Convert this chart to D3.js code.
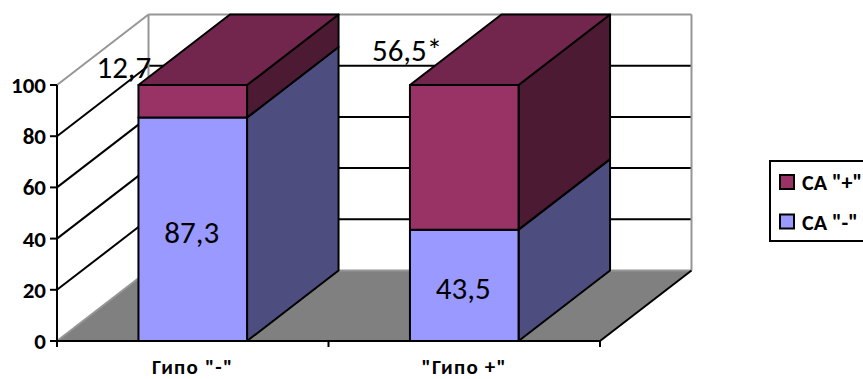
<!DOCTYPE html>
<html>
<head>
<meta charset="utf-8">
<script src="https://cdn.jsdelivr.net/npm/d3@7"></script>
<style>
  html, body { margin: 0; padding: 0; background: #fff; overflow: hidden; }
  text { font-family: Carlito, Calibri, Lato, "Open Sans", sans-serif; fill: #000; }
  .tick-label { font-size: 23px; font-weight: bold; }
  .cat-label { font-size: 21px; font-weight: bold; letter-spacing: 1.2px; }
  .value-label { font-size: 31px; }
  .legend-label { font-size: 22px; font-weight: bold; }
</style>
</head>
<body>
<div id="chart"></div>
<script>
/* stacked 3d column chart */

const categories = ['Гипо "-"', '"Гипо +"'];
const seriesMinus = [87.3, 43.5];
const seriesPlus = [12.7, 56.5];
const plusLabels = ["12,7", "56,5*"];
const minusLabels = ["87,3", "43,5"];
const yTicks = [0, 20, 40, 60, 80, 100];
const legendNames = ['CA "+"', 'CA "-"'];

const width = 863, height = 379;
const depthX = 91.5, depthY = -70.5;

const colors = {
  minus: { front: "#9999ff", side: "#4d4d80" },
  plus: { front: "#993366", side: "#4d1a33", top: "#73264d" }
};

const svg = d3.select("#chart").append("svg")
    .attr("width", width)
    .attr("height", height);

const x = d3.scaleBand()
    .domain(categories)
    .range([57, 600])
    .paddingInner(0.6)
    .paddingOuter(0.3);

const y = d3.scaleLinear()
    .domain([0, 100])
    .range([341, 85]);

const x0 = x.range()[0], x1 = x.range()[1];
const wallGray = "#969696";
const lw = 2;

function poly(points, fill, stroke, sw) {
  svg.append("polygon")
      .attr("points", points.map(p => p.join(",")).join(" "))
      .attr("fill", fill)
      .attr("stroke", stroke || "none")
      .attr("stroke-width", sw || 0)
      .attr("stroke-linejoin", "round");
}

function line(a, b, stroke, sw) {
  svg.append("line")
      .attr("x1", a[0]).attr("y1", a[1])
      .attr("x2", b[0]).attr("y2", b[1])
      .attr("stroke", stroke)
      .attr("stroke-width", sw);
}

// floor
poly([[x0, y(0)], [x1, y(0)], [x1 + depthX, y(0) + depthY], [x0 + depthX, y(0) + depthY]], "#808080");

// gridlines on the side wall and back wall
yTicks.slice(1, -1).forEach(t => {
  line([x0, y(t)], [x0 + depthX, y(t) + depthY], "#000", lw);
  line([x0 + depthX, y(t) + depthY], [x1 + depthX, y(t) + depthY], "#000", lw);
});

// wall outlines
line([x0, y(0)], [x0 + depthX, y(0) + depthY], wallGray, lw);
line([x0, y(100)], [x0 + depthX, y(100) + depthY], wallGray, lw);
line([x0 + depthX, y(100) + depthY], [x1 + depthX, y(100) + depthY], wallGray, lw);
line([x0 + depthX, y(100) + depthY], [x0 + depthX, y(0) + depthY], wallGray, lw);
line([x1 + depthX, y(100) + depthY], [x1 + depthX, y(0) + depthY], wallGray, lw);
line([x0 + depthX, y(0) + depthY], [x1 + depthX, y(0) + depthY], wallGray, lw);

// front edge of the floor on the right
line([x1, y(0)], [x1 + depthX, y(0) + depthY], "#000", lw);

// columns
function drawSegment(cat, from, to, c, withTop) {
  const l = x(cat), r = x(cat) + x.bandwidth();
  poly([[r, y(from)], [r + depthX, y(from) + depthY], [r + depthX, y(to) + depthY], [r, y(to)]], c.side, "#000", lw);
  poly([[l, y(from)], [r, y(from)], [r, y(to)], [l, y(to)]], c.front, "#000", lw);
  if (withTop) {
    poly([[l, y(to)], [r, y(to)], [r + depthX, y(to) + depthY], [l + depthX, y(to) + depthY]], c.top, "#000", lw);
  }
}

categories.forEach((cat, i) => {
  drawSegment(cat, 0, seriesMinus[i], colors.minus, false);
  drawSegment(cat, seriesMinus[i], seriesMinus[i] + seriesPlus[i], colors.plus, true);
});

// axes
line([x0, y(0)], [x0, y(100)], "#000", lw);
line([x0, y(0)], [x1, y(0)], "#000", lw);

yTicks.forEach(t => {
  line([x0 - 7, y(t)], [x0, y(t)], "#000", lw);
  svg.append("text")
      .attr("class", "tick-label")
      .attr("x", x0 - 11)
      .attr("y", y(t) + 8)
      .attr("text-anchor", "end")
      .text(t);
});

[x0, x0 + x.step(), x1].forEach(t => line([t, y(0)], [t, y(0) + 6], "#000", lw));

categories.forEach(cat => {
  svg.append("text")
      .attr("class", "cat-label")
      .attr("x", x(cat) + x.bandwidth() / 2)
      .attr("y", 374)
      .attr("text-anchor", "middle")
      .text(cat);
});

// data labels, the upper ones were dragged by hand in the original
categories.forEach((cat, i) => {
  svg.append("text")
      .attr("class", "value-label")
      .attr("x", x(cat) + x.bandwidth() / 2 - 1)
      .attr("y", y(seriesMinus[i] / 2) + 14)
      .attr("text-anchor", "middle")
      .text(minusLabels[i]);
});

svg.append("text").attr("class", "value-label")
    .attr("x", x(categories[0]) - 42).attr("y", 78).text(plusLabels[0]);
svg.append("text").attr("class", "value-label")
    .attr("x", x(categories[1]) - 38).attr("y", 61).text(plusLabels[1]);

// legend, runs off the right edge like the original
svg.append("rect")
    .attr("x", 770).attr("y", 161)
    .attr("width", 110).attr("height", 80)
    .attr("fill", "#fff").attr("stroke", "#000").attr("stroke-width", lw);

[colors.plus.front, colors.minus.front].forEach((c, i) => {
  svg.append("rect")
      .attr("x", 780).attr("y", 175 + i * 39.5)
      .attr("width", 14).attr("height", 14)
      .attr("fill", c).attr("stroke", "#000").attr("stroke-width", lw);
  svg.append("text")
      .attr("class", "legend-label")
      .attr("x", 802).attr("y", 190 + i * 39.5)
      .text(legendNames[i]);
});
</script>
</body>
</html>
